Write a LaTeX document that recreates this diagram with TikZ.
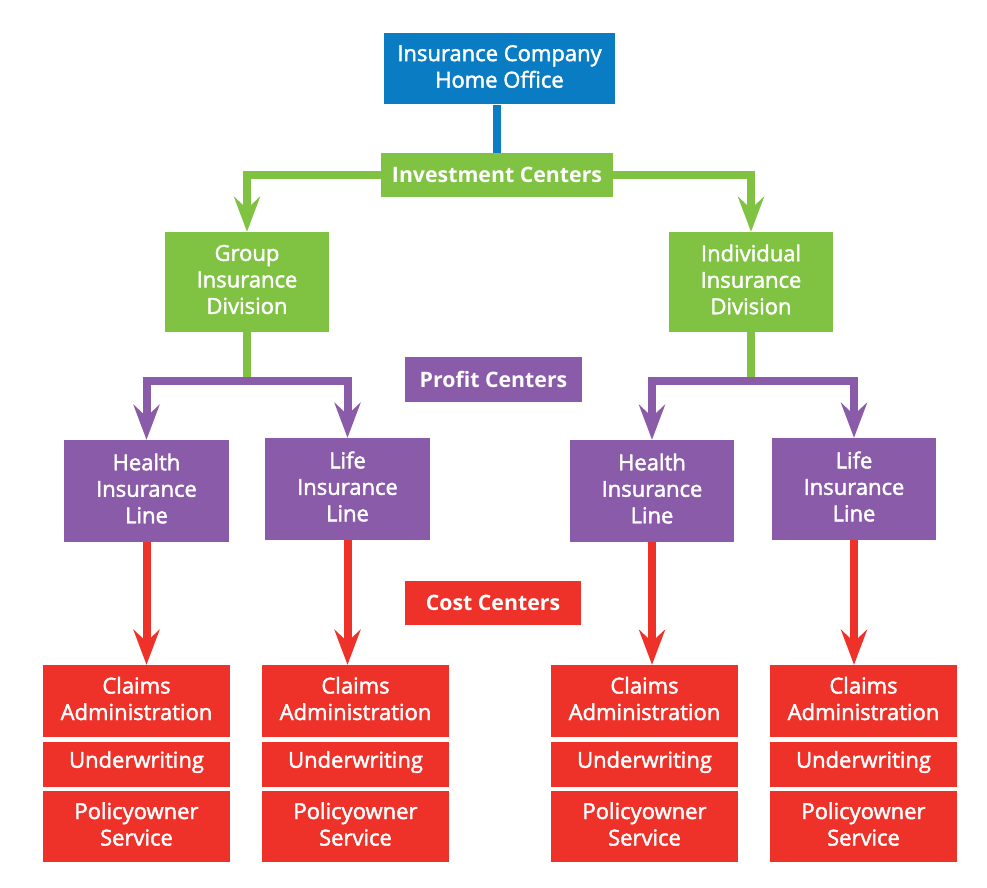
\documentclass[tikz,border=0pt]{standalone}
\usepackage{fontspec}
\setmainfont{Open Sans}
\newfontfamily\semib{Open Sans}[FakeBold=2]
\usetikzlibrary{arrows.meta}
\definecolor{cblue}{HTML}{0A7CC4}
\definecolor{cgreen}{HTML}{80C342}
\definecolor{cpurple}{HTML}{8A5BA8}
\definecolor{cred}{HTML}{EE3229}
\tikzset{
  box/.style={draw=none, inner sep=0pt,
    label={[txt]center:{#1}}},
  txt/.style={text=white, align=center, inner sep=0pt, yshift=2.5pt,
    font=\semib\fontsize{22}{26.5}\selectfont},
  lab/.style={draw=none, text=white, align=center, inner sep=0pt,
    font=\bfseries\fontsize{21.3}{24}\selectfont},
  conn/.style={line width=8pt},
  tip/.style={-{Stealth[length=35pt,width=26pt,inset=12pt]}}
}
\begin{document}
\begin{tikzpicture}[x=1pt,y=-1pt]
\useasboundingbox[fill=white] (0,0) rectangle (987,888);
% top
\node[box={Insurance Company\\Home Office}, fill=cblue, minimum width=231pt, minimum height=71pt] (home) at (499.5,69) {};
\node[lab, fill=cgreen, minimum width=232pt, minimum height=44pt] (inv) at (497,175) {Investment Centers};
% divisions
\node[box={Group\\Insurance\\Division}, fill=cgreen, minimum width=164pt, minimum height=100pt] (grp) at (247,282) {};
\node[box={Individual\\Insurance\\Division}, fill=cgreen, minimum width=164pt, minimum height=100pt] (ind) at (751,282) {};
\node[lab, fill=cpurple, minimum width=177pt, minimum height=45pt] (profit) at (493.5,379.5) {Profit Centers};
% lines
\node[box={Health\\Insurance\\Line}, fill=cpurple, minimum width=165pt, minimum height=102pt] (h1) at (146.5,491) {};
\node[box={Life\\Insurance\\Line}, fill=cpurple, minimum width=165pt, minimum height=102pt] (l1) at (347.5,489) {};
\node[box={Health\\Insurance\\Line}, fill=cpurple, minimum width=164pt, minimum height=102pt] (h2) at (652,491) {};
\node[box={Life\\Insurance\\Line}, fill=cpurple, minimum width=164pt, minimum height=102pt] (l2) at (854,489) {};
\node[lab, fill=cred, minimum width=176pt, minimum height=44pt] (cost) at (493,603) {Cost Centers};
% cost centers
\foreach \i/\cx in {1/136.5, 2/355.5, 3/644.5, 4/863.5}{
  \node[box={Claims\\Administration}, fill=cred, minimum width=187pt, minimum height=72pt] (c\i) at (\cx,701) {};
  \node[box={Underwriting}, fill=cred, minimum width=187pt, minimum height=45pt] (u\i) at (\cx,764.5) {};
  \node[box={Policyowner\\Service}, fill=cred, minimum width=187pt, minimum height=71pt] (p\i) at (\cx,826.5) {};
}
% connectors
\draw[conn, cblue] (inv.north) -- (inv.north |- home.south);
\draw[conn, cgreen, tip] (inv.west) -| (grp.north);
\draw[conn, cgreen, tip] (inv.east) -| (ind.north);
\draw[conn, cgreen] (grp.south) -- ++(0,49) coordinate (gj);
\draw[conn, cgreen] (ind.south) -- ++(0,49) coordinate (ij);
\draw[conn, cpurple, tip] (gj) -| (h1.north);
\draw[conn, cpurple, tip] (gj) -| (l1.north);
\draw[conn, cpurple, tip] (ij) -| (h2.north);
\draw[conn, cpurple, tip] (ij) -| (l2.north);
\draw[conn, cred, tip] (h1.south) -- (h1.south |- c1.north);
\draw[conn, cred, tip] (l1.south) -- (l1.south |- c2.north);
\draw[conn, cred, tip] (h2.south) -- (h2.south |- c3.north);
\draw[conn, cred, tip] (l2.south) -- (l2.south |- c4.north);
\end{tikzpicture}
\end{document}
